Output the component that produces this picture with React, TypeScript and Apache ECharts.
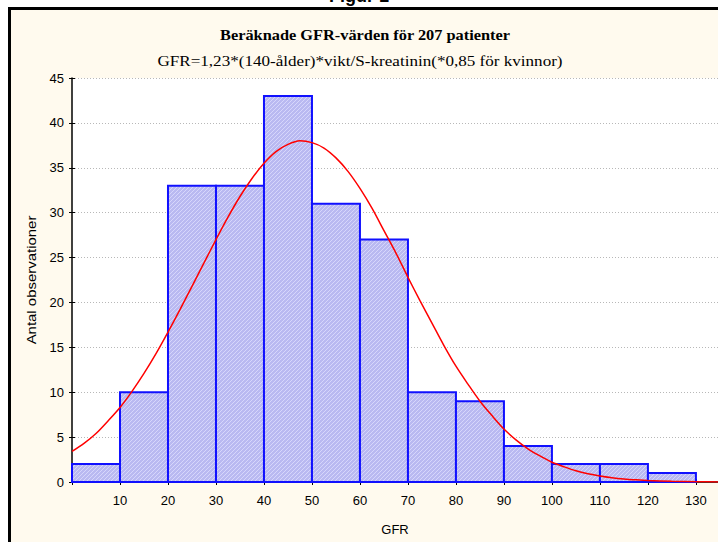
import React, { useEffect, useRef } from "react";
import * as echarts from "echarts";

const binStarts = [0, 10, 20, 30, 40, 50, 60, 70, 80, 90, 100, 110, 120];
const binEnds = [10, 20, 30, 40, 50, 60, 70, 80, 90, 100, 110, 120, 130];
const counts = [2, 10, 33, 33, 43, 31, 27, 10, 9, 4, 2, 2, 1];

const curveX = [0, 2.5, 5, 7.5, 10, 12.5, 15, 17.5, 20, 22.5, 25, 27.5, 30, 32.5, 35, 37.5, 40, 42.5, 45, 47.5, 50, 52.5, 55, 57.5, 60, 62.5, 65, 67.5, 70, 72.5, 75, 77.5, 80, 82.5, 85, 87.5, 90, 92.5, 95, 97.5, 100, 102.5, 105, 107.5, 110, 112.5, 115, 117.5, 120, 125, 130, 135];
const curveY = [3.4, 4.3, 5.4, 6.8, 8.3, 10.1, 12.1, 14.3, 16.7, 19.2, 21.8, 24.4, 27.0, 29.5, 31.8, 33.8, 35.5, 36.8, 37.6, 38.0, 37.8, 37.2, 36.1, 34.6, 32.7, 30.5, 28.0, 25.5, 22.8, 20.2, 17.7, 15.2, 12.9, 10.9, 9.0, 7.4, 5.9, 4.7, 3.7, 2.9, 2.2, 1.7, 1.25, 0.92, 0.67, 0.48, 0.34, 0.24, 0.16, 0.07, 0.03, 0.01];

const yTicks = [0, 5, 10, 15, 20, 25, 30, 35, 40, 45];
const xTickLabels = ["10", "20", "30", "40", "50", "60", "70", "80", "90", "100", "110", "120", "130"];

const titleText = "Beräknade GFR-värden för 207 patienter";
const subtitleText = "GFR=1,23*(140-ålder)*vikt/S-kreatinin(*0,85 för kvinnor)";
const figureText = "Figur 1";
const yName = "Antal observationer";
const xName = "GFR";

function makePattern() {
  const c = document.createElement("canvas");
  c.width = 4;
  c.height = 4;
  const ctx = c.getContext("2d");
  if (ctx) {
    ctx.fillStyle = "#b9b9f1";
    ctx.fillRect(0, 0, 4, 4);
    ctx.strokeStyle = "#d6d6fb";
    ctx.lineWidth = 1;
    ctx.beginPath();
    ctx.moveTo(0, 4);
    ctx.lineTo(4, 0);
    ctx.stroke();
  }
  return c;
}

export default function App() {
  const ref = useRef<HTMLDivElement>(null);
  useEffect(() => {
    if (!ref.current) return;
    const chart = echarts.init(ref.current, undefined, { renderer: "svg" });
    const pattern = makePattern();
    const histData = binStarts.map((s, i) => [s, binEnds[i], counts[i]]);
    const curveData = curveX.map((x, i) => [x, curveY[i]]);
    const fontSans = "Arial, 'Liberation Sans', sans-serif";
    const fontSerif = "'Times New Roman', 'Liberation Serif', serif";
    chart.setOption({
      animation: false,
      backgroundColor: "#ffffff",
      graphic: [
        {
          type: "rect",
          z: -10,
          silent: true,
          shape: { x: 9.5, y: 8.5, width: 720, height: 540 },
          style: { fill: "#fffaee", stroke: "#000", lineWidth: 3 },
        },
        {
          type: "text",
          left: "center",
          top: -13,
          style: { text: figureText, font: "bold 18px " + fontSans, fill: "#000" },
        },
        {
          type: "text",
          x: 365,
          y: 35,
          scaleX: 1.09,
          style: {
            text: titleText,
            font: "bold 15px " + fontSerif,
            fill: "#000",
            align: "center",
            verticalAlign: "middle",
          },
        },
        {
          type: "text",
          x: 360,
          y: 61,
          scaleX: 1.22,
          style: {
            text: subtitleText,
            font: "14px " + fontSerif,
            fill: "#000",
            align: "center",
            verticalAlign: "middle",
          },
        },
        {
          type: "text",
          x: 31,
          y: 280,
          rotation: Math.PI / 2,
          scaleX: 1.15,
          style: {
            text: yName,
            font: "13px " + fontSans,
            fill: "#000",
            align: "center",
            verticalAlign: "middle",
          },
        },
      ],
      grid: {
        left: 72,
        top: 78,
        right: 0,
        bottom: 60,
        show: true,
        backgroundColor: "#ffffff",
        borderWidth: 0,
      },
      xAxis: [
        {
          type: "value",
          min: 0,
          max: 134.6,
          interval: 10,
          position: "bottom",
          name: xName,
          nameLocation: "middle",
          nameGap: 41,
          nameTextStyle: { fontFamily: fontSans, fontSize: 13, color: "#000" },
          axisLine: { show: true, lineStyle: { color: "#000", width: 1.5 } },
          axisTick: { show: true, inside: true, length: 3, lineStyle: { color: "#000" } },
          axisLabel: {
            fontFamily: fontSans,
            fontSize: 13,
            color: "#000",
            margin: 12,
            showMaxLabel: false,
            formatter: (v: number) => {
              const s = String(Math.round(v));
              return xTickLabels.indexOf(s) >= 0 ? s : "";
            },
          },
          splitLine: { show: false },
        },
        {
          type: "value",
          min: 0,
          max: 134.6,
          interval: 10,
          position: "top",
          axisLine: { show: true, lineStyle: { color: "#333", width: 1 } },
          axisTick: { show: true, inside: true, length: 3, lineStyle: { color: "#000" } },
          axisLabel: { show: false },
          splitLine: { show: false },
        },
      ],
      yAxis: [
        {
          type: "value",
          min: 0,
          max: 45,
          interval: 5,
          position: "left",
          axisLine: { show: true, lineStyle: { color: "#000", width: 1.5 } },
          axisTick: { show: true, inside: true, length: 3, lineStyle: { color: "#000" } },
          axisLabel: {
            fontFamily: fontSans,
            fontSize: 13,
            color: "#000",
            margin: 8,
            formatter: (v: number) => (yTicks.indexOf(v) >= 0 ? String(v) : ""),
          },
          splitLine: { show: true, lineStyle: { color: "#b8b8b8", type: [1, 2], width: 1 } },
        },
        {
          type: "value",
          min: 0,
          max: 45,
          interval: 5,
          position: "right",
          axisLine: { show: false },
          axisTick: { show: true, inside: true, length: 3, lineStyle: { color: "#000" } },
          axisLabel: { show: false },
          splitLine: { show: false },
        },
      ],
      series: [
        {
          type: "custom",
          xAxisIndex: 0,
          yAxisIndex: 0,
          data: histData,
          encode: { x: [0, 1], y: 2 },
          renderItem: (params: any, api: any) => {
            const x0 = api.value(0);
            const x1 = api.value(1);
            const y = api.value(2);
            const p0 = api.coord([x0, y]);
            const p1 = api.coord([x1, 0]);
            return {
              type: "rect",
              shape: { x: p0[0], y: p0[1], width: p1[0] - p0[0], height: p1[1] - p0[1] },
              style: {
                fill: { type: "pattern", image: pattern, repeat: "repeat" },
                stroke: "#1010ff",
                lineWidth: 2,
              },
            };
          },
          z: 2,
        },
        {
          type: "line",
          xAxisIndex: 0,
          yAxisIndex: 0,
          data: curveData,
          smooth: 0.3,
          showSymbol: false,
          clip: true,
          lineStyle: { color: "#ff0000", width: 1.5 },
          z: 3,
        },
      ],
    });
    return () => chart.dispose();
  }, []);
  return (
    <div
      ref={ref}
      style={{ position: "fixed", left: 0, top: 0, width: 718, height: 542 }}
    />
  );
}
